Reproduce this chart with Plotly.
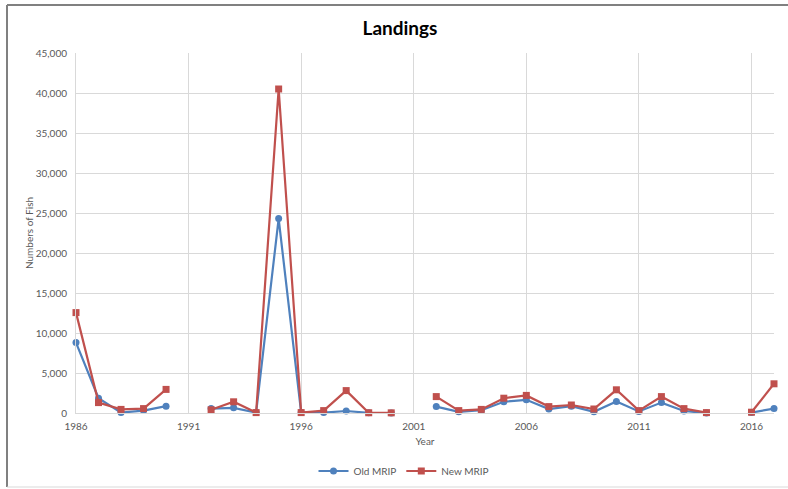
import plotly.graph_objects as go

years = list(range(1986, 2018))

old_mrip = [8800, 1850, 50, 300, 850, None, 550, 650, 50, 24300,
            50, 50, 250, 30, 0, None, 800, 150, 350, 1400,
            1650, 500, 850, 150, 1450, 200, 1300, 250, 0, None,
            50, 550]

new_mrip = [12550, 1300, 450, 550, 2950, None, 400, 1400, 50, 40500,
            50, 300, 2800, 30, 20, None, 2050, 300, 450, 1850,
            2200, 800, 1000, 500, 2900, 300, 2050, 550, 50, None,
            100, 3650]

blue = "#4F81BD"
red = "#C0504D"
grid = "#D9D9D9"
text_col = "#595959"
font_family = "Lato, 'Open Sans', sans-serif"

fig = go.Figure()
fig.add_trace(go.Scatter(
    x=years, y=old_mrip, name="Old MRIP", mode="lines+markers",
    line=dict(color=blue, width=2.2),
    marker=dict(symbol="circle", size=7, color=blue),
    connectgaps=False, cliponaxis=False,
))
fig.add_trace(go.Scatter(
    x=years, y=new_mrip, name="New MRIP", mode="lines+markers",
    line=dict(color=red, width=2.2),
    marker=dict(symbol="square", size=7, color=red),
    connectgaps=False, cliponaxis=False,
))

L, R, T, B = 76, 14, 53, 76
W, H = 788, 489
pw, ph = W - L - R, H - T - B

def px(xp):
    return (xp - L) / pw

def py(yp):
    return (H - B - yp) / ph

# outer chart frame
fig.add_shape(type="line", xref="paper", yref="paper",
              x0=px(7), x1=px(7), y0=py(487), y1=py(5),
              line=dict(color="#808080", width=2))
fig.add_shape(type="line", xref="paper", yref="paper",
              x0=px(7), x1=px(792), y0=py(5), y1=py(5),
              line=dict(color="#808080", width=2))
fig.add_shape(type="line", xref="paper", yref="paper",
              x0=px(7), x1=px(792), y0=py(487), y1=py(487),
              line=dict(color=grid, width=1))

fig.update_layout(
    width=W, height=H,
    margin=dict(l=L, r=R, t=T, b=B, autoexpand=False),
    paper_bgcolor="white", plot_bgcolor="white",
    font=dict(family=font_family, color=text_col, size=10),
    title=dict(text="<b>Landings</b>", x=(400 / W), xanchor="center",
               y=1 - 28 / H, yanchor="middle",
               font=dict(size=19, color="black", family=font_family)),
    showlegend=True,
    legend=dict(orientation="h", x=(404 - L) / pw, xanchor="center",
                y=py(471), yanchor="middle",
                font=dict(size=10, color=text_col),
                itemwidth=30),
    xaxis=dict(
        range=[1986, 2017], tick0=1986, dtick=5,
        showgrid=True, gridcolor=grid, gridwidth=1,
        showline=True, linecolor=grid, linewidth=1,
        zeroline=False, ticks="", ticklabelstandoff=4,
        tickfont=dict(size=10, color=text_col),
        title=dict(text="Year", font=dict(size=10, color=text_col), standoff=6),
    ),
    yaxis=dict(
        range=[0, 45000], dtick=5000, tickformat=",d",
        showgrid=True, gridcolor=grid, gridwidth=1,
        showline=True, linecolor=grid, linewidth=1,
        zeroline=False, ticks="", ticklabelstandoff=6,
        tickfont=dict(size=10, color=text_col),
        title=dict(text="Numbers of Fish", font=dict(size=10, color=text_col), standoff=0),
    ),
)

fig.write_html("out.html")
